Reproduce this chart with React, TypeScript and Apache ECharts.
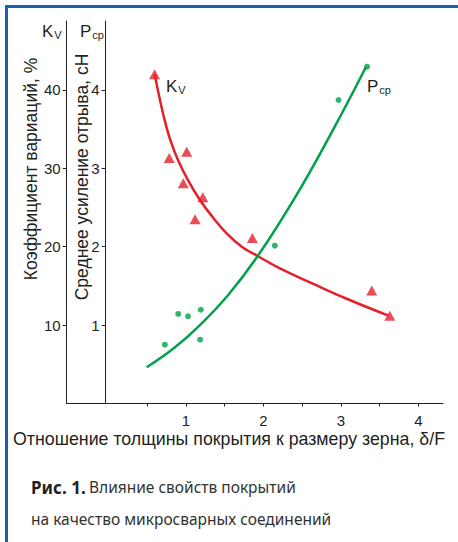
import React, { useEffect, useRef } from "react";
import * as echarts from "echarts";

// ---- data ----
const kvPoints: [number, number][] = [
  [0.594, 42.0], [0.783, 31.3], [1.009, 32.1], [0.965, 28.1], [1.217, 26.3],
  [1.117, 23.5], [1.857, 21.1], [3.399, 14.4], [3.632, 11.2],
];
const kvCurve: [number, number][] = [
  [0.595, 42.0], [0.664, 38.7], [0.741, 35.5], [0.806, 33.35], [0.896, 31.06],
  [1.025, 28.5], [1.18, 25.96], [1.35, 23.7], [1.525, 21.71], [1.72, 20.0],
  [1.926, 18.81], [2.213, 17.24], [2.644, 15.26], [3.075, 13.36], [3.617, 11.2],
];
const pPoints: [number, number][] = [
  [0.727, 0.75], [0.9, 1.142], [1.026, 1.112], [1.191, 1.196], [1.182, 0.814],
  [2.147, 2.013], [2.97, 3.871], [3.338, 4.296],
];
const pCurve: [number, number][] = [
  [0.492, 0.462], [0.85, 0.71], [1.18, 1.0], [1.55, 1.39], [1.926, 1.881],
  [2.407, 2.627], [2.86, 3.42], [3.326, 4.296],
];
const xTicks = [0.5, 1, 1.5, 2, 2.5, 3, 3.5, 4];
const xLabels = [1, 2, 3, 4];
const kvTicks = [10, 20, 30, 40];
const pTicks = [1, 2, 3, 4];

const RED = "#e5202a";
const GREEN = "#00a14b";
const INK = "#231f20";
const BLUE = "#1a5fab";
const FONT = "Liberation Sans, Arial, sans-serif";
const CAP_FONT = "Noto Sans, sans-serif";

export default function App() {
  const ref = useRef<HTMLDivElement>(null);
  useEffect(() => {
    if (!ref.current) return;
    const chart = echarts.init(ref.current, null, { renderer: "svg" });
    const axisLine = { show: true, lineStyle: { color: INK, width: 1 } };
    const labelStyle = { color: INK, fontSize: 15, fontFamily: FONT };
    const sub = (main: string, s: string, x: number, y: number) => ({
      type: "text",
      x,
      y,
      style: {
        text: `{k|${main}}{v|${s}}`,
        rich: {
          k: { fontSize: 17, fontFamily: FONT, fill: INK },
          v: { fontSize: 11, fontFamily: FONT, fill: INK, padding: [7, 0, 0, 1] },
        },
      },
    });
    chart.setOption({
      animation: false,
      backgroundColor: "#ffffff",
      grid: { left: 66.7, right: 15, top: 21, bottom: 138.5 },
      xAxis: {
        type: "value",
        min: -0.541,
        max: 4.319,
        axisLine: { ...axisLine, onZero: false },
        axisTick: { show: true, length: 3, customValues: xTicks, lineStyle: { color: INK } },
        axisLabel: { ...labelStyle, margin: 9, customValues: xLabels },
        splitLine: { show: false },
      },
      yAxis: [
        {
          type: "value",
          min: 0,
          max: 48.79,
          position: "left",
          axisLine: { ...axisLine, onZero: false },
          axisTick: { show: true, length: 4, customValues: kvTicks, lineStyle: { color: INK } },
          axisLabel: { ...labelStyle, margin: 6, customValues: kvTicks },
          splitLine: { show: false },
        },
        {
          type: "value",
          min: 0,
          max: 4.879,
          position: "left",
          offset: -39,
          axisLine: { ...axisLine, onZero: false },
          axisTick: { show: true, length: 4, customValues: pTicks, lineStyle: { color: INK } },
          axisLabel: { ...labelStyle, margin: 6, customValues: pTicks },
          splitLine: { show: false },
        },
      ],
      series: [
        {
          type: "line",
          yAxisIndex: 0,
          data: kvCurve,
          smooth: 0.45,
          showSymbol: false,
          lineStyle: { color: RED, width: 2.5 },
          z: 2,
        },
        {
          type: "line",
          yAxisIndex: 1,
          data: pCurve,
          smooth: 0.45,
          showSymbol: false,
          lineStyle: { color: GREEN, width: 2.5 },
          z: 2,
        },
        {
          type: "scatter",
          yAxisIndex: 0,
          data: kvPoints,
          symbol: "triangle",
          symbolSize: [11, 10],
          itemStyle: { color: RED },
          z: 3,
        },
        {
          type: "scatter",
          yAxisIndex: 1,
          data: pPoints,
          symbol: "circle",
          symbolSize: 6,
          itemStyle: { color: GREEN },
          z: 3,
        },
      ],
      graphic: [
        { type: "rect", shape: { x: 5, y: 5, width: 453, height: 3 }, style: { fill: BLUE } },
        { type: "rect", shape: { x: 5, y: 5, width: 3, height: 537 }, style: { fill: BLUE } },
        sub("K", "V", 42, 22),
        sub("P", "ср", 80, 22),
        sub("K", "V", 166, 77),
        sub("P", "ср", 367, 77),
        {
          type: "text",
          x: 31, y: 169,
          rotation: Math.PI / 2,
          style: {
            text: "Коэффициент вариаций, %",
            fontSize: 17.5, fontFamily: FONT, fill: INK,
            align: "center", verticalAlign: "middle",
          },
        },
        {
          type: "text",
          x: 82, y: 177,
          rotation: Math.PI / 2,
          style: {
            text: "Среднее усиление отрыва, сН",
            fontSize: 17.5, fontFamily: FONT, fill: INK,
            align: "center", verticalAlign: "middle",
          },
        },
        {
          type: "text",
          x: 229, y: 439,
          style: {
            text: "Отношение толщины покрытия к размеру зерна, δ/F",
            fontSize: 17.8, fontFamily: FONT, fill: INK,
            align: "center", verticalAlign: "middle",
          },
        },
        {
          type: "text",
          x: 31, y: 487,
          style: {
            text: "{b|Рис. 1.} {n|Влияние свойств покрытий}",
            verticalAlign: "middle",
            rich: {
              b: { fontSize: 17, fontWeight: "bold", fontFamily: CAP_FONT, fill: INK },
              n: { fontSize: 15.5, fontFamily: CAP_FONT, fill: "#333" },
            },
          },
        },
        {
          type: "text",
          x: 31, y: 519,
          style: {
            text: "на качество микросварных соединений",
            fontSize: 15.5, fontFamily: CAP_FONT, fill: "#333",
            verticalAlign: "middle",
          },
        },
      ],
    });
    return () => chart.dispose();
  }, []);
  return (
    <div style={{ position: "fixed", left: 0, top: 0, width: 458, height: 542, background: "#fff" }}>
      <div ref={ref} style={{ width: 458, height: 542 }} />
    </div>
  );
}
